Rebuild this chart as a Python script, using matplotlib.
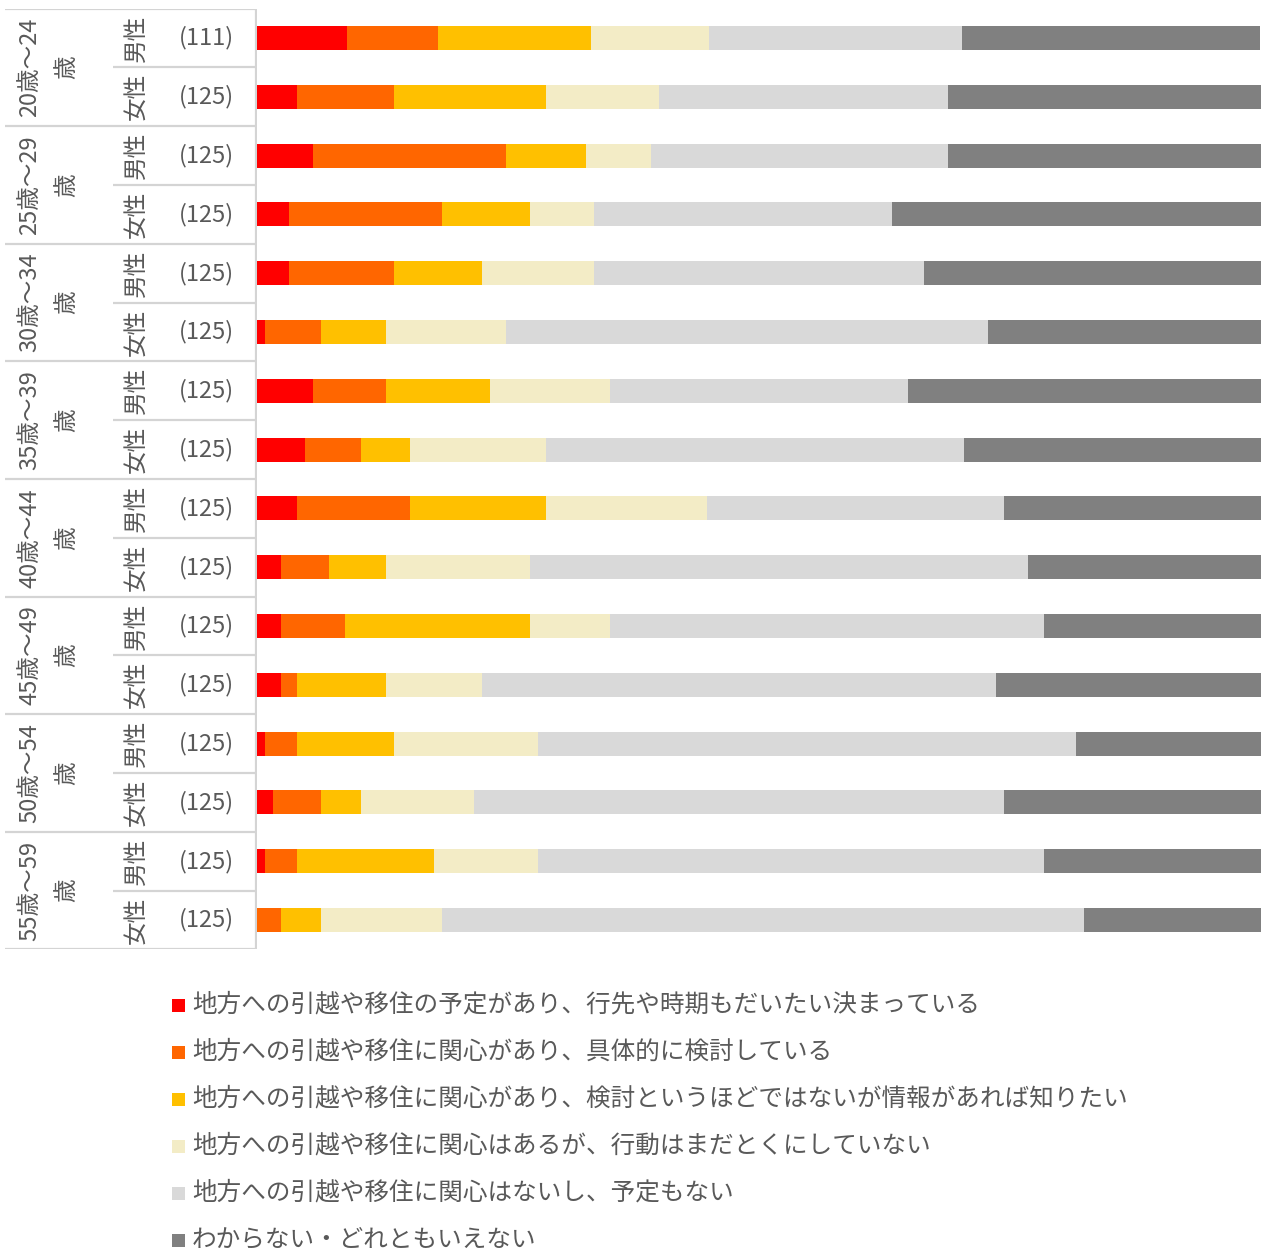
import matplotlib
matplotlib.use("Agg")
import matplotlib.pyplot as plt
from matplotlib.patches import Rectangle
import numpy as np

plt.rcParams['font.family'] = ['Noto Sans CJK JP', 'DejaVu Sans']

# ---- data ----
age_groups = ["20歳～24\n歳", "25歳～29\n歳", "30歳～34\n歳", "35歳～39\n歳",
              "40歳～44\n歳", "45歳～49\n歳", "50歳～54\n歳", "55歳～59\n歳"]
genders = ["男性", "女性"]
sample_sizes = [111, 125, 125, 125, 125, 125, 125, 125,
                125, 125, 125, 125, 125, 125, 125, 125]

categories = [
    "地方への引越や移住の予定があり、行先や時期もだいたい決まっている",
    "地方への引越や移住に関心があり、具体的に検討している",
    "地方への引越や移住に関心があり、検討というほどではないが情報があれば知りたい",
    "地方への引越や移住に関心はあるが、行動はまだとくにしていない",
    "地方への引越や移住に関心はないし、予定もない",
    "わからない・どれともいえない",
]
decided = [9.0, 4.0, 5.6, 3.2, 3.2, 0.8, 5.6, 4.8, 4.0, 2.4, 2.4, 2.4, 0.8, 1.6, 0.8, 0.0]
considering = [9.0, 9.6, 19.2, 15.2, 10.4, 5.6, 7.2, 5.6, 11.2, 4.8, 6.4, 1.6, 3.2, 4.8, 3.2, 2.4]
want_info = [15.3, 15.2, 8.0, 8.8, 8.8, 6.4, 10.4, 4.8, 13.6, 5.6, 18.4, 8.8, 9.6, 4.0, 13.6, 4.0]
no_action = [11.7, 11.2, 6.4, 6.4, 11.2, 12.0, 12.0, 13.6, 16.0, 14.4, 8.0, 9.6, 14.4, 11.2, 10.4, 12.0]
not_interested = [25.2, 28.8, 29.6, 29.6, 32.8, 48.0, 29.6, 41.6, 29.6, 49.6, 43.2, 51.2, 53.6, 52.8, 50.4, 64.0]
unknown = [29.7, 31.2, 31.2, 36.8, 33.6, 27.2, 35.2, 29.6, 25.6, 23.2, 21.6, 26.4, 18.4, 25.6, 21.6, 17.6]

series = [decided, considering, want_info, no_action, not_interested, unknown]
colors = ["#FF0000", "#FF6600", "#FFC000", "#F3ECC6", "#D9D9D9", "#808080"]
text_color = "#595959"
line_color = "#D4D4D4"

W, H = 1271, 1257
fig = plt.figure(figsize=(W / 100, H / 100), dpi=100)

n_rows = len(sample_sizes)
top_px, bot_px = 8.6, 949.4
bar_left_px, bar_right_px = 257, 1261

# ---- bars ----
ax = fig.add_axes([bar_left_px / W, 1 - bot_px / H,
                   (bar_right_px - bar_left_px) / W, (bot_px - top_px) / H])
y = np.arange(n_rows)
left = np.zeros(n_rows)
for vals, col, lab in zip(series, colors, categories):
    ax.barh(y, vals, left=left, height=0.41, color=col, edgecolor='none', label=lab)
    left += np.array(vals)
ax.set_xlim(0, 100)
ax.set_ylim(n_rows - 0.5, -0.5)
ax.axis('off')

# ---- table on the left ----
tax = fig.add_axes([0, 1 - bot_px / H, bar_left_px / W, (bot_px - top_px) / H])
tax.set_xlim(0, bar_left_px)
tax.set_ylim(n_rows - 0.5, -0.5)
tax.axis('off')

for g in range(len(age_groups) + 1):
    yy = -0.5 + 2 * g
    tax.plot([5, 256], [yy, yy], color=line_color, lw=1.6, solid_capstyle='butt')
for g in range(len(age_groups)):
    yy = 0.5 + 2 * g
    tax.plot([113, 256], [yy, yy], color=line_color, lw=1.6, solid_capstyle='butt')
tax.plot([256, 256], [-0.5, n_rows - 0.5], color=line_color, lw=1.6, solid_capstyle='butt')

fs = 17
for g, lab in enumerate(age_groups):
    tax.text(48, 2 * g + 0.5, lab, rotation=90, ha='center', va='center',
             multialignment='center', fontsize=fs, color=text_color, linespacing=1.75)
for i in range(n_rows):
    tax.text(136, i, genders[i % 2], rotation=90, ha='center', va='center',
             fontsize=fs, color=text_color)
    tax.text(234, i, f"({sample_sizes[i]})", ha='right', va='center',
             fontsize=fs, color=text_color)

# ---- legend ----
for k, (lab, col) in enumerate(zip(categories, colors)):
    yc = 1004 + 47 * k
    fig.patches.append(Rectangle((172 / W, 1 - (yc + 7.5) / H), 13 / W, 13 / H,
                                 transform=fig.transFigure, facecolor=col,
                                 edgecolor='none'))
    fig.text(192 / W, 1 - yc / H, lab, ha='left', va='center',
             fontsize=17.7, color=text_color)

fig.savefig("out.png", dpi=100, facecolor='white')
